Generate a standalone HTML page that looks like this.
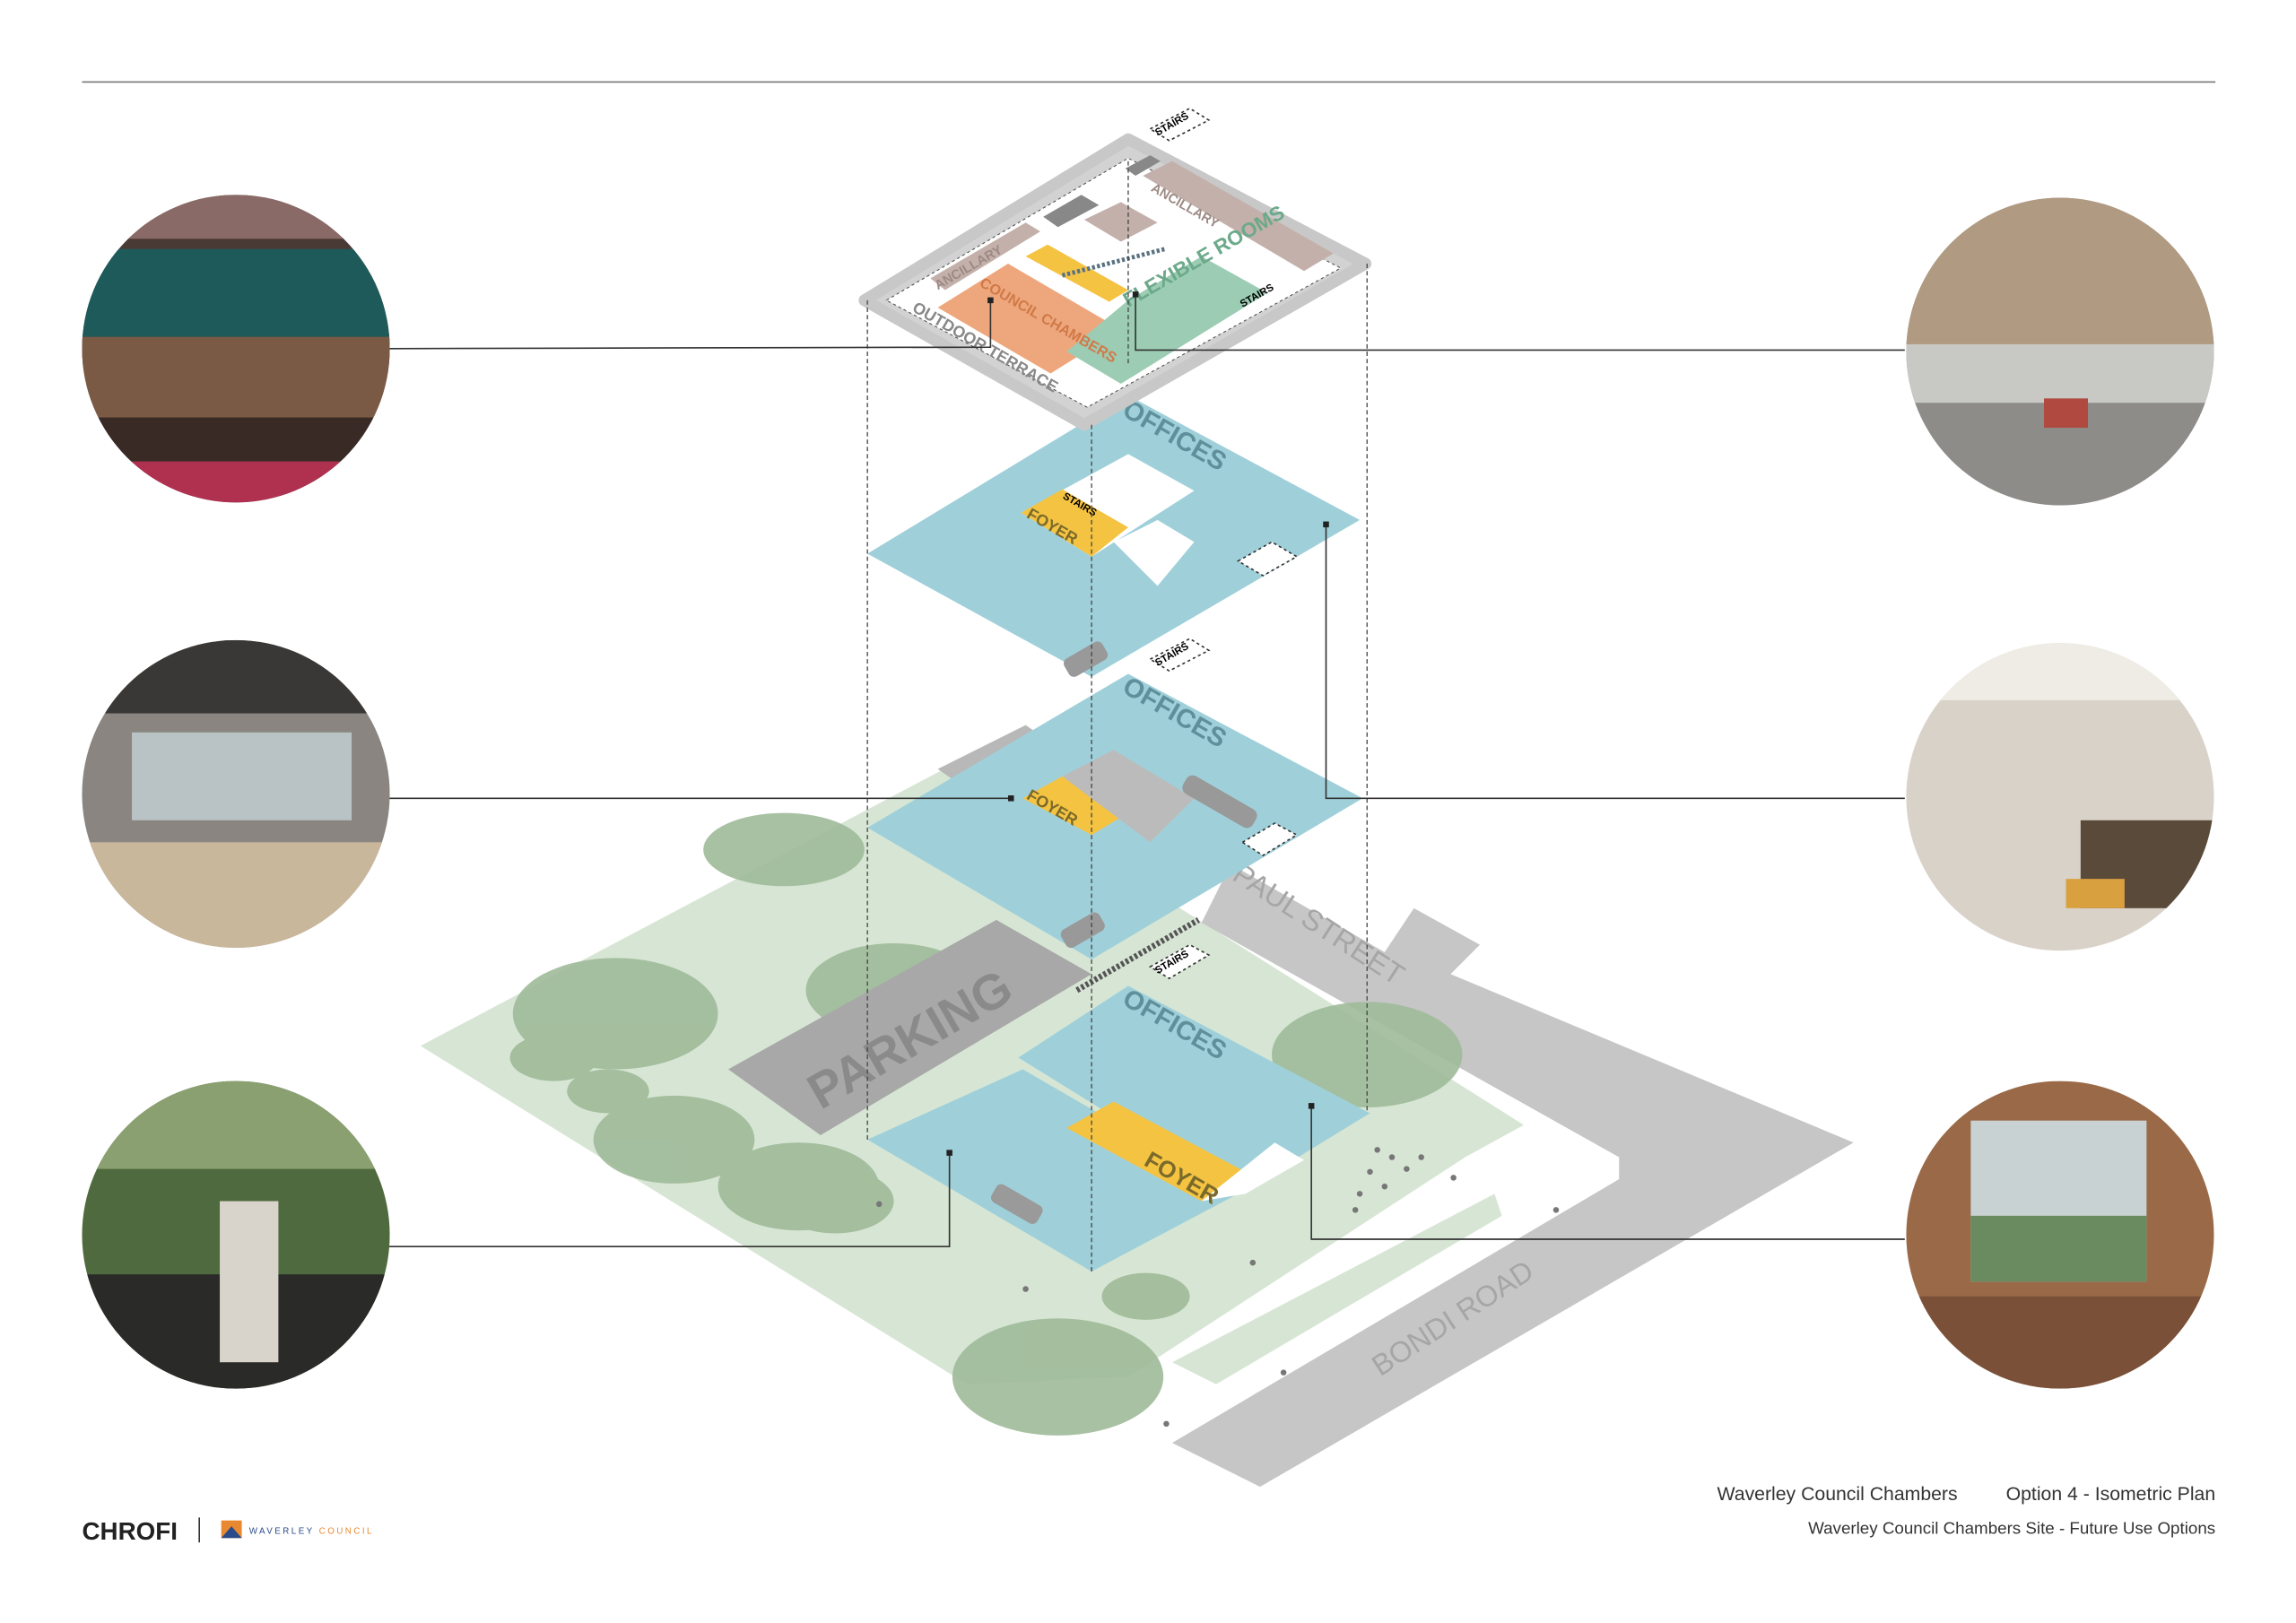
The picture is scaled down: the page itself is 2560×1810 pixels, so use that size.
<!DOCTYPE html>
<html><head><meta charset="utf-8"><style>
html,body{margin:0;padding:0;background:#fff}
svg{display:block}
text{font-family:"Liberation Sans",sans-serif}
</style></head><body>
<svg width="2560" height="1810" viewBox="0 0 1567 1108" preserveAspectRatio="none" xmlns="http://www.w3.org/2000/svg">
<defs>
<clipPath id="c1"><circle cx="161" cy="238" r="105"/></clipPath>
<clipPath id="c2"><circle cx="161" cy="542" r="105"/></clipPath>
<clipPath id="c3"><circle cx="161" cy="843" r="105"/></clipPath>
<clipPath id="c4"><circle cx="1406" cy="240" r="105"/></clipPath>
<clipPath id="c5"><circle cx="1406" cy="544" r="105"/></clipPath>
<clipPath id="c6"><circle cx="1406" cy="843" r="105"/></clipPath>
</defs>
<rect width="1567" height="1108" fill="#fff"/>
<line x1="56" y1="56" x2="1512" y2="56" stroke="#777" stroke-width="1"/>

<polygon points="287,714 650,522 1040,768 1000,790 770,940 660,945" fill="#d7e6d4"/>
<polygon points="840,590 945,650 965,620 1010,645 990,665 1265,780 860,1015 800,985 1105,805 1105,790 820,630" fill="#c6c6c6"/>
<polygon points="640,525 700,495 710,502 650,532" fill="#b8b8b8"/>
<g fill="#9fba99" opacity="0.9">
<ellipse cx="420" cy="692" rx="70" ry="38"/><ellipse cx="378" cy="722" rx="30" ry="16"/>
<ellipse cx="415" cy="745" rx="28" ry="15"/><ellipse cx="460" cy="778" rx="55" ry="30"/>
<ellipse cx="545" cy="810" rx="55" ry="30"/><ellipse cx="570" cy="820" rx="40" ry="22"/>
<ellipse cx="610" cy="676" rx="60" ry="32"/><ellipse cx="535" cy="580" rx="55" ry="25"/>
<ellipse cx="933" cy="720" rx="65" ry="36"/><ellipse cx="782" cy="885" rx="30" ry="16"/>
<ellipse cx="722" cy="940" rx="72" ry="40"/>
</g>
<polygon points="800,930 1020,815 1025,830 830,945" fill="#d7e6d4"/>
<polygon points="497,730 680,628 745,665 560,775" fill="#a8a8a8"/>
<text transform="translate(560,758) rotate(-30)" font-size="34" font-weight="bold" fill="#8a8a8a">PARKING</text>
<text transform="translate(840,600) rotate(33)" font-size="20" fill="#a6a6a6">PAUL STREET</text>
<text transform="translate(942,940) rotate(-33)" font-size="20" fill="#a6a6a6">BONDI ROAD</text>
<g fill="#777">
<circle cx="940" cy="785" r="2"/><circle cx="935" cy="800" r="2"/><circle cx="928" cy="815" r="2"/><circle cx="950" cy="790" r="2"/><circle cx="945" cy="810" r="2"/><circle cx="960" cy="798" r="2"/><circle cx="925" cy="826" r="2"/><circle cx="970" cy="790" r="2"/><circle cx="992" cy="804" r="2"/><circle cx="1062" cy="826" r="2"/><circle cx="855" cy="862" r="2"/><circle cx="700" cy="880" r="2"/><circle cx="600" cy="822" r="2"/><circle cx="876" cy="937" r="2"/><circle cx="796" cy="972" r="2"/>
</g>

<polygon points="592,778 698,730 845,815 745,868" fill="#9fd0da"/>
<polygon points="695,722 770,673 935,760 845,815" fill="#9fd0da"/>
<polygon points="728,770 760,752 850,800 820,820" fill="#f5c342"/>
<polygon points="820,820 870,780 890,792 850,815" fill="#fff"/>
<text transform="translate(780,795) rotate(30)" font-size="16" font-weight="bold" fill="#7a6a2a">FOYER</text>
<text transform="translate(765,685) rotate(30)" font-size="18" font-weight="bold" fill="#5e8f9a">OFFICES</text>
<rect x="676" y="815" width="36" height="14" rx="4" fill="#9a9a9a" transform="rotate(30 694 822)"/>
<polygon points="785,660 812,645 825,652 798,668" fill="#fff" stroke="#333" stroke-dasharray="2,2"/>
<text transform="translate(790,665) rotate(-30)" font-size="7" font-weight="bold">STAIRS</text>
<line x1="735" y1="676" x2="818" y2="628" stroke="#555" stroke-width="4" stroke-dasharray="2,1.5"/>

<polygon points="592,565 770,460 930,545 745,655" fill="#9fd0da"/>
<polygon points="698,545 725,530 770,555 745,570" fill="#f5c342"/>
<polygon points="725,530 760,512 815,545 785,575" fill="#bbb"/>
<rect x="805" y="540" width="55" height="14" rx="5" fill="#999" transform="rotate(30 832 547)"/>
<rect x="724" y="628" width="30" height="14" rx="4" fill="#999" transform="rotate(-30 739 635)"/>
<polygon points="848,575 870,562 885,570 862,584" fill="#fff" stroke="#333" stroke-dasharray="2,2"/>
<polygon points="785,450 812,436 825,444 798,458" fill="#fff" stroke="#333" stroke-dasharray="2,2"/>
<text transform="translate(790,455) rotate(-30)" font-size="7" font-weight="bold">STAIRS</text>
<text transform="translate(700,545) rotate(30)" font-size="11" font-weight="bold" fill="#7a6a2a">FOYER</text>
<text transform="translate(765,472) rotate(30)" font-size="18" font-weight="bold" fill="#5e8f9a">OFFICES</text>

<polygon points="592,378 770,270 928,355 745,462" fill="#9fd0da"/>
<polygon points="697,350 770,310 815,335 745,380" fill="#fff"/>
<polygon points="697,350 725,334 770,360 745,380" fill="#f5c342"/>
<polygon points="760,370 790,355 815,370 790,400" fill="#fff"/>
<polygon points="845,383 868,370 885,380 862,393" fill="#fff" stroke="#333" stroke-dasharray="2,2"/>
<rect x="726" y="443" width="30" height="14" rx="4" fill="#999" transform="rotate(-30 741 450)"/>
<text transform="translate(700,353) rotate(30)" font-size="11" font-weight="bold" fill="#7a6a2a">FOYER</text>
<text transform="translate(765,283) rotate(30)" font-size="18" font-weight="bold" fill="#5e8f9a">OFFICES</text>
<text transform="translate(725,340) rotate(30)" font-size="7" font-weight="bold">STAIRS</text>

<polygon points="590,205 770,95 932,180 740,290" fill="#d2d2d2" stroke="#c8c8c8" stroke-linejoin="round" stroke-width="8"/>
<polygon points="605,205 770,108 915,183 742,278" fill="#fff" stroke="#444" stroke-dasharray="2,2" stroke-width="0.6"/>
<polygon points="640,210 688,180 765,225 717,255" fill="#eea77d"/>
<polygon points="700,175 715,167 770,198 757,206" fill="#f5c342"/>
<polygon points="770,205 820,175 865,200 765,262 728,240" fill="#9cccb3"/>
<polygon points="780,120 800,110 910,173 890,185" fill="#c3b0aa"/>
<polygon points="635,190 700,152 710,158 645,198" fill="#c3b0aa"/>
<polygon points="740,150 765,138 790,152 765,165" fill="#c3b0aa"/>
<polygon points="712,148 738,133 750,140 722,155" fill="#888"/>
<polygon points="768,115 785,106 792,110 775,120" fill="#888"/>
<line x1="725" y1="188" x2="795" y2="170" stroke="#5a7180" stroke-width="3" stroke-dasharray="2,1.5"/>
<text transform="translate(622,212) rotate(30)" font-size="11" font-weight="bold" fill="#888">OUTDOOR TERRACE</text>
<text transform="translate(668,195) rotate(30)" font-size="10" font-weight="bold" fill="#d07a48">COUNCIL CHAMBERS</text>
<text transform="translate(770,210) rotate(-30)" font-size="14" font-weight="bold" fill="#6ca98a">FLEXIBLE ROOMS</text>
<text transform="translate(640,198) rotate(-30)" font-size="9" font-weight="bold" fill="#9d8a84">ANCILLARY</text>
<text transform="translate(785,130) rotate(30)" font-size="9" font-weight="bold" fill="#9d8a84">ANCILLARY</text>
<polygon points="785,88 812,74 825,82 798,96" fill="#fff" stroke="#333" stroke-dasharray="2,2"/>
<text transform="translate(790,93) rotate(-30)" font-size="7" font-weight="bold">STAIRS</text>
<text transform="translate(848,210) rotate(-30)" font-size="7" font-weight="bold">STAIRS</text>

<g stroke="#444" stroke-width="0.8" stroke-dasharray="3,2">
<line x1="592" y1="205" x2="592" y2="778"/><line x1="745" y1="290" x2="745" y2="868"/>
<line x1="933" y1="180" x2="933" y2="760"/><line x1="770" y1="110" x2="770" y2="250"/>
</g>

<g stroke="#333" stroke-width="1" fill="none">
<polyline points="265,238 676,237 676,205"/>
<polyline points="1300,239 775,239 775,201"/>
<polyline points="265,545 690,545"/>
<polyline points="1300,545 905,545 905,358"/>
<polyline points="265,851 648,851 648,787"/>
<polyline points="1300,846 895,846 895,755"/>
</g>
<g fill="#222"><rect x="674" y="203" width="4" height="4"/><rect x="773" y="199" width="4" height="4"/><rect x="688" y="543" width="4" height="4"/><rect x="903" y="356" width="4" height="4"/><rect x="646" y="785" width="4" height="4"/><rect x="893" y="753" width="4" height="4"/></g>

<g clip-path="url(#c1)"><rect x="56" y="133" width="210" height="210" fill="#4a3a36"/><rect x="56" y="170" width="210" height="60" fill="#1f5a5a"/><rect x="56" y="230" width="210" height="60" fill="#7a5a45"/><rect x="56" y="285" width="210" height="30" fill="#3a2a25"/><rect x="56" y="315" width="210" height="30" fill="#b03050"/><rect x="56" y="133" width="210" height="30" fill="#8a6a66"/></g>
<g clip-path="url(#c2)"><rect x="56" y="437" width="210" height="210" fill="#8a8580"/><rect x="56" y="437" width="210" height="50" fill="#3a3836"/><rect x="90" y="500" width="150" height="60" fill="#b9c2c4"/><rect x="56" y="575" width="210" height="75" fill="#c9b79b"/></g>
<g clip-path="url(#c3)"><rect x="56" y="738" width="210" height="210" fill="#4f6a3e"/><rect x="56" y="738" width="210" height="60" fill="#8aa070"/><rect x="56" y="870" width="210" height="80" fill="#2a2a28"/><rect x="150" y="820" width="40" height="110" fill="#d8d4cc"/></g>
<g clip-path="url(#c4)"><rect x="1300" y="135" width="212" height="210" fill="#8e8c88"/><rect x="1300" y="135" width="212" height="105" fill="#b09a82"/><rect x="1300" y="235" width="212" height="40" fill="#c8c8c4"/><rect x="1395" y="272" width="30" height="20" fill="#b04a40"/></g>
<g clip-path="url(#c5)"><rect x="1300" y="438" width="212" height="212" fill="#d9d2c8"/><rect x="1300" y="438" width="212" height="40" fill="#efece6"/><rect x="1420" y="560" width="90" height="60" fill="#5a4a3a"/><rect x="1410" y="600" width="40" height="20" fill="#d9a040"/></g>
<g clip-path="url(#c6)"><rect x="1300" y="738" width="212" height="210" fill="#9a6a48"/><rect x="1345" y="765" width="120" height="110" fill="#c8d2d2"/><rect x="1345" y="830" width="120" height="45" fill="#6a8a60"/><rect x="1300" y="885" width="212" height="63" fill="#7a5038"/></g>

<text x="56" y="1051" font-size="17" font-weight="bold" fill="#222">CHROFI</text>
<line x1="136" y1="1036" x2="136" y2="1053" stroke="#333"/>
<rect x="151" y="1038" width="14" height="12" fill="#e8892f"/><polygon points="151,1050 158,1042 165,1050" fill="#2a4a8a"/>
<text x="170" y="1047" font-size="6" fill="#2a4a8a" letter-spacing="1.5">WAVERLEY <tspan fill="#e8892f">COUNCIL</tspan></text>
<text x="1336" y="1024" font-size="13" fill="#333" text-anchor="end">Waverley Council Chambers</text>
<text x="1512" y="1024" font-size="13" fill="#333" text-anchor="end">Option 4 - Isometric Plan</text>
<text x="1512" y="1047" font-size="11.5" fill="#333" text-anchor="end">Waverley Council Chambers Site - Future Use Options</text>
</svg>
</body></html>
